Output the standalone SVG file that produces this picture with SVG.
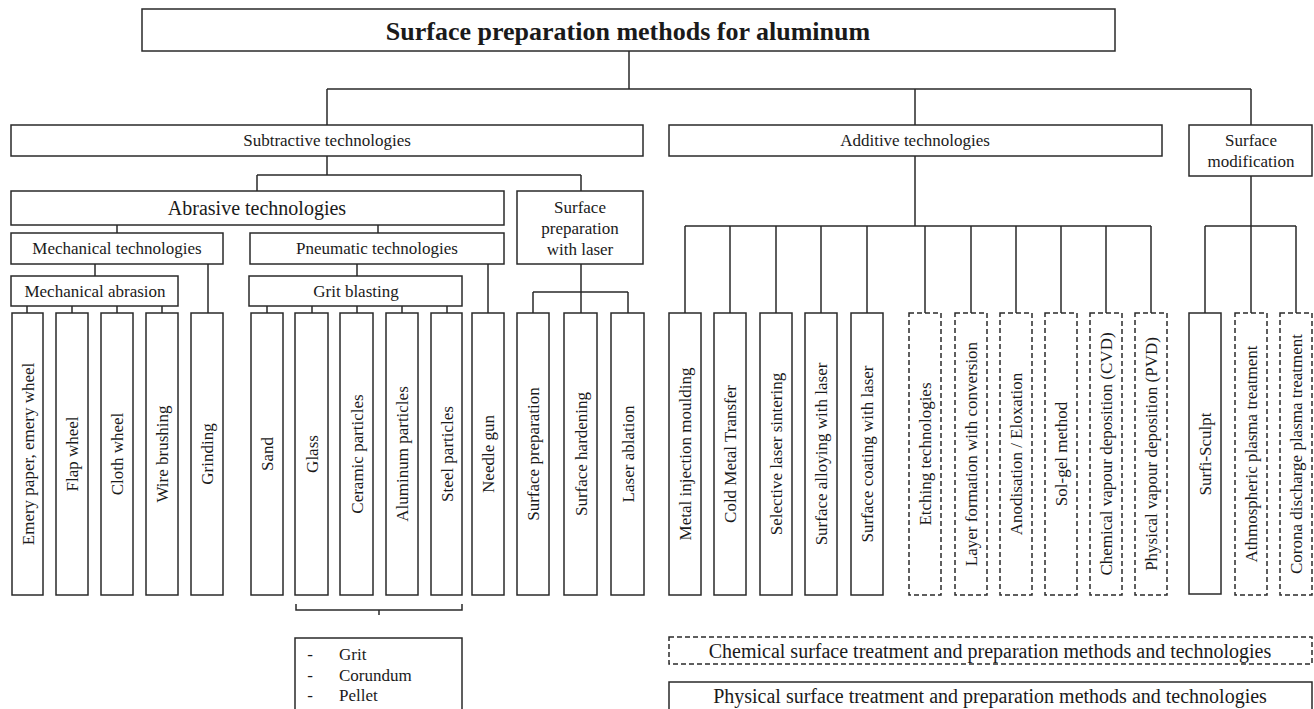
<svg xmlns="http://www.w3.org/2000/svg" width="1314" height="709" viewBox="0 0 1314 709">
<style>
rect{fill:#fff;stroke:#2a2a2a;stroke-width:1.5}
rect.d{stroke-dasharray:5,3}
#connectors path{fill:none;stroke:#2a2a2a;stroke-width:1.5}
text{font-family:"Liberation Serif","Times New Roman",serif;font-size:17px;fill:#1a1a1a;text-anchor:middle}
.t{font-size:26px;font-weight:bold}
.l{font-size:20px}
.lf text{font-size:17px}
</style>
<rect x="0" y="0" width="1314" height="709" style="fill:#fff;stroke:none"/>
<g id="connectors">
<path d="M629,51V89M327,89H1251M327,89V125M915,89V125M1251,89V125"/>
<path d="M327,156V175M257,175H581M257,175V191M581,175V191"/>
<path d="M117,225V233M378,225V233"/>
<path d="M95,264V276M208,264V313M357,264V276M488,264V313"/>
<path d="M27,306V313M72,306V313M117,306V313M162,306V313"/>
<path d="M267,306V313M312,306V313M357,306V313M402,306V313M447,306V313"/>
<path d="M581,264V313M533,292H628M533,292V313M628,292V313"/>
<path d="M915,156V226M685,226H1151M685,226V313M730,226V313M776,226V313M821,226V313M867,226V313M925,226V313M971,226V313M1016,226V313M1061,226V313M1106,226V313M1151,226V313"/>
<path d="M1251,176V226M1205,226H1296M1205,226V313M1251,226V313M1296,226V313"/>
<path d="M296,604V610H462V604M379,610V615"/>
</g>
<g id="title"><rect x="142" y="9" width="973" height="42"/><text class="t" x="628" y="40">Surface preparation methods for aluminum</text></g>
<g id="subtractive"><rect x="11" y="125" width="632" height="31"/><text x="327" y="146">Subtractive technologies</text></g>
<g id="additive"><rect x="669" y="125" width="493" height="31"/><text x="915" y="146">Additive technologies</text></g>
<g id="surface-modification"><rect x="1189" y="125" width="123" height="51"/><text x="1251" y="146">Surface</text><text x="1251" y="167">modification</text></g>
<g id="abrasive"><rect x="11" y="191" width="493" height="34"/><text class="l" x="257" y="215">Abrasive technologies</text></g>
<g id="laser"><rect x="517" y="191" width="126" height="73"/><text x="580" y="213">Surface</text><text x="580" y="234">preparation</text><text x="580" y="255">with laser</text></g>
<g id="mechanical"><rect x="11" y="233" width="212" height="31"/><text x="117" y="254">Mechanical technologies</text></g>
<g id="pneumatic"><rect x="250" y="233" width="254" height="31"/><text x="377" y="254">Pneumatic technologies</text></g>
<g id="mech-abrasion"><rect x="11" y="276" width="167" height="30"/><text x="95" y="297">Mechanical abrasion</text></g>
<g id="grit-blasting"><rect x="249" y="276" width="213" height="30"/><text x="356" y="297">Grit blasting</text></g>
<g class="lf">
<g id="n1"><rect x="12" y="313" width="31" height="282"/><text transform="translate(27.5,454) rotate(-90)" y="6">Emery paper, emery wheel</text></g>
<g id="n2"><rect x="56" y="313" width="32" height="282"/><text transform="translate(72,454) rotate(-90)" y="6">Flap wheel</text></g>
<g id="n3"><rect x="101" y="313" width="32" height="282"/><text transform="translate(117,454) rotate(-90)" y="6">Cloth wheel</text></g>
<g id="n4"><rect x="146" y="313" width="32" height="282"/><text transform="translate(162,454) rotate(-90)" y="6">Wire brushing</text></g>
<g id="n5"><rect x="191" y="313" width="32" height="282"/><text transform="translate(207,454) rotate(-90)" y="6">Grinding</text></g>
<g id="n6"><rect x="251" y="313" width="32" height="282"/><text transform="translate(267,454) rotate(-90)" y="6">Sand</text></g>
<g id="n7"><rect x="295" y="313" width="33" height="282"/><text transform="translate(311.5,454) rotate(-90)" y="6">Glass</text></g>
<g id="n8"><rect x="340" y="313" width="33" height="282"/><text transform="translate(356.5,454) rotate(-90)" y="6">Ceramic particles</text></g>
<g id="n9"><rect x="386" y="313" width="32" height="282"/><text transform="translate(402,454) rotate(-90)" y="6">Aluminum particles</text></g>
<g id="n10"><rect x="431" y="313" width="31" height="282"/><text transform="translate(446.5,454) rotate(-90)" y="6">Steel particles</text></g>
<g id="n11"><rect x="472" y="313" width="32" height="282"/><text transform="translate(488,454) rotate(-90)" y="6">Needle gun</text></g>
<g id="n12"><rect x="517" y="313" width="32" height="282"/><text transform="translate(533,454) rotate(-90)" y="6">Surface preparation</text></g>
<g id="n13"><rect x="564" y="313" width="33" height="282"/><text transform="translate(580.5,454) rotate(-90)" y="6">Surface hardening</text></g>
<g id="n14"><rect x="611" y="313" width="33" height="282"/><text transform="translate(627.5,454) rotate(-90)" y="6">Laser ablation</text></g>
<g id="n15"><rect x="669" y="313" width="32" height="282"/><text transform="translate(685,454) rotate(-90)" y="6">Metal injection moulding</text></g>
<g id="n16"><rect x="714" y="313" width="32" height="282"/><text transform="translate(730,454) rotate(-90)" y="6">Cold Metal Transfer</text></g>
<g id="n17"><rect x="760" y="313" width="32" height="282"/><text transform="translate(776,454) rotate(-90)" y="6">Selective laser sintering</text></g>
<g id="n18"><rect x="805" y="313" width="32" height="282"/><text transform="translate(821,454) rotate(-90)" y="6">Surface alloying with laser</text></g>
<g id="n19"><rect x="851" y="313" width="32" height="282"/><text transform="translate(867,454) rotate(-90)" y="6">Surface coating with laser</text></g>
<g id="n20"><rect class="d" x="909" y="313" width="32" height="282"/><text transform="translate(925,454) rotate(-90)" y="6">Etching technologies</text></g>
<g id="n21"><rect class="d" x="955" y="313" width="32" height="282"/><text transform="translate(971,454) rotate(-90)" y="6">Layer formation with conversion</text></g>
<g id="n22"><rect class="d" x="1000" y="313" width="32" height="282"/><text transform="translate(1016,454) rotate(-90)" y="6">Anodisation / Eloxation</text></g>
<g id="n23"><rect class="d" x="1045" y="313" width="32" height="282"/><text transform="translate(1061,454) rotate(-90)" y="6">Sol-gel method</text></g>
<g id="n24"><rect class="d" x="1090" y="313" width="32" height="282"/><text transform="translate(1106,454) rotate(-90)" y="6">Chemical vapour deposition (CVD)</text></g>
<g id="n25"><rect class="d" x="1135" y="313" width="32" height="282"/><text transform="translate(1151,454) rotate(-90)" y="6">Physical vapour deposition (PVD)</text></g>
<g id="n26"><rect x="1189" y="313" width="32" height="281"/><text transform="translate(1205,454) rotate(-90)" y="6">Surfi-Sculpt</text></g>
<g id="n27"><rect class="d" x="1235" y="313" width="32" height="282"/><text transform="translate(1251,454) rotate(-90)" y="6">Athmospheric plasma treatment</text></g>
<g id="n28"><rect class="d" x="1280" y="313" width="32" height="282"/><text transform="translate(1296,454) rotate(-90)" y="6">Corona discharge plasma treatment</text></g>
</g>
<g id="grit-list"><rect x="295" y="638" width="167" height="85"/>
<text x="310" y="660">-</text><text x="310" y="681">-</text><text x="310" y="701">-</text>
<text x="339" y="660" style="text-anchor:start">Grit</text><text x="339" y="681" style="text-anchor:start">Corundum</text><text x="339" y="701" style="text-anchor:start">Pellet</text></g>
<g id="legend-chemical"><rect class="d" x="669" y="637" width="643" height="27"/><text class="l" x="990" y="658">Chemical surface treatment and preparation methods and technologies</text></g>
<g id="legend-physical"><rect x="669" y="682" width="643" height="40"/><text class="l" x="990" y="703">Physical surface treatment and preparation methods and technologies</text></g>
</svg>
